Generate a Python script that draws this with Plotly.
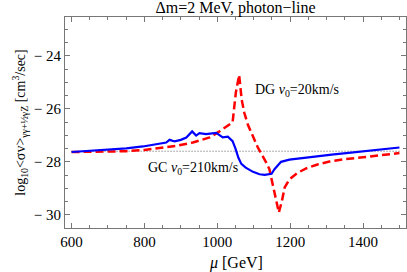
import plotly.graph_objects as go

# GC (v0 = 210 km/s), solid blue
mu_gc = [600, 650, 704, 750, 796, 840, 860, 869, 883, 900, 915, 931, 942, 951, 969, 997,
         1015, 1029, 1042, 1050, 1058, 1066, 1078, 1098, 1116, 1130, 1143, 1149, 1157, 1175,
         1198, 1225, 1253, 1281, 1320, 1354, 1400, 1446, 1500]
gc = [-27.63, -27.59, -27.55, -27.49, -27.42, -27.33, -27.27, -27.17, -27.23, -27.17,
      -27.08, -26.85, -27.01, -26.92, -26.95, -26.91, -27.08, -27.05, -27.22, -27.5,
      -27.85, -28.08, -28.22, -28.38, -28.47, -28.49, -28.48, -28.45, -28.28, -28.0,
      -27.92, -27.87, -27.82, -27.77, -27.72, -27.67, -27.61, -27.53, -27.46]

# DG (v0 = 20 km/s), dashed red
mu_dg = [600, 650, 700, 750, 800, 841, 887, 933, 979, 1006, 1020, 1042, 1051, 1060,
         1067, 1074, 1084, 1095, 1111, 1134, 1143, 1157, 1169, 1177, 1185, 1198, 1220,
         1244, 1275, 1308, 1350, 1400, 1450, 1500]
dg = [-27.63, -27.62, -27.61, -27.6, -27.55, -27.49, -27.40, -27.27, -27.08, -26.85,
      -26.72, -26.51, -25.38, -24.72, -25.65, -26.14, -26.6, -26.95, -27.45, -28.02,
      -28.28, -29.16, -29.92, -29.5, -28.97, -28.66, -28.42, -28.25, -28.1, -27.99,
      -27.9, -27.83, -27.75, -27.67]

# reference level (dotted)
ref_mu = [600, 1500]
ref_val = [-27.6, -27.6]

x_ticks = [600, 800, 1000, 1200, 1400]
y_ticks = [-30, -28, -26, -24]
y_ticktext = ["− 30", "− 28", "− 26", "− 24"]

font = "Liberation Serif"

fig = go.Figure()
fig.add_trace(go.Scatter(x=ref_mu, y=ref_val, mode="lines",
                         line=dict(color="#333333", width=0.8, dash="1px,2px"),
                         showlegend=False, hoverinfo="skip"))
fig.add_trace(go.Scatter(x=mu_dg, y=dg, mode="lines",
                         line=dict(color="#ff0000", width=2.5, dash="8px,4px"),
                         showlegend=False))
fig.add_trace(go.Scatter(x=mu_gc, y=gc, mode="lines",
                         line=dict(color="#0000ff", width=2.2),
                         showlegend=False))

fig.add_annotation(x=1220, y=-25.3, text="DG <i>v</i><sub>0</sub>=20km/s",
                   showarrow=False, font=dict(family=font, size=14, color="black"))
fig.add_annotation(x=934, y=-28.25, text="GC <i>v</i><sub>0</sub>=210km/s",
                   showarrow=False, font=dict(family=font, size=14, color="black"))
# x-axis title
fig.add_annotation(x=0.5, xref="paper", y=-0.168, yref="paper", yanchor="middle",
                   text="<i>μ</i> [GeV]", showarrow=False,
                   font=dict(family=font, size=16, color="black"))

axis_common = dict(showgrid=False, zeroline=False, showline=True, linecolor="#777777",
                   linewidth=1, mirror="allticks", ticks="inside", tickcolor="#777777",
                   ticklen=5, tickwidth=1,
                   tickfont=dict(family=font, size=15, color="black"))

fig.update_layout(
    width=407, height=272,
    margin=dict(l=65, r=1, t=17, b=44),
    paper_bgcolor="white", plot_bgcolor="white",
    title=dict(text="Δm=2 MeV, photon−line", x=0.5, xanchor="center",
               xref="paper", y=0.995, yanchor="top",
               font=dict(family=font, size=16, color="black")),
    xaxis=dict(range=[582, 1518], tickvals=x_ticks,
               minor=dict(dtick=50, tick0=600, ticks="inside", ticklen=3,
                          tickcolor="#777777"),
               **axis_common),
    yaxis=dict(range=[-30.5, -22.53], tickvals=y_ticks, ticktext=y_ticktext,
               title=dict(text="log<sub>10</sub><σv><sub>γγ+½γZ</sub> [cm<sup>3</sup>/sec]",
                          standoff=4,
                          font=dict(family=font, size=14, color="black")),
               minor=dict(dtick=0.5, tick0=-30, ticks="inside", ticklen=3,
                          tickcolor="#777777"),
               **axis_common),
)

fig.write_html("out.html", config={"displayModeBar": False},
               post_script="document.body.style.margin='0';")
